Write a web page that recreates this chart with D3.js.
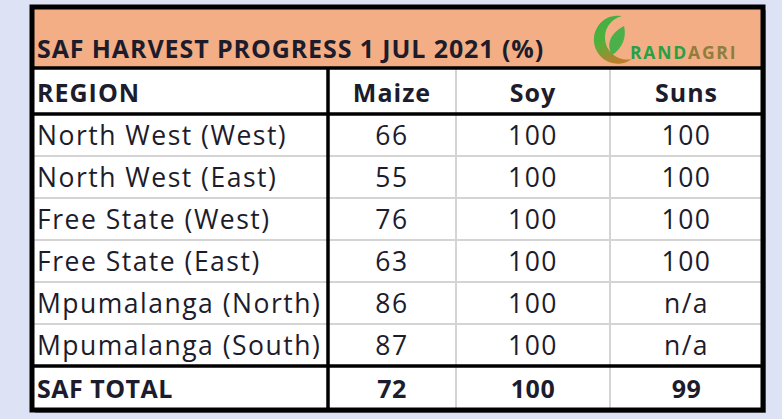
<!DOCTYPE html>
<html>
<head>
<meta charset="utf-8">
<script src="https://cdn.jsdelivr.net/npm/d3@7"></script>
<style>
  html, body { margin: 0; padding: 0; background: #dde3f4; }
  svg { display: block; }
</style>
</head>
<body>
<div id="chart"></div>
<script>
const title = "SAF HARVEST PROGRESS 1 JUL 2021 (%)";
const headers = ["REGION", "Maize", "Soy", "Suns"];
const regions = ["North West (West)", "North West (East)", "Free State (West)", "Free State (East)", "Mpumalanga (North)", "Mpumalanga (South)"];
const maize = [66, 55, 76, 63, 86, 87];
const soy = [100, 100, 100, 100, 100, 100];
const suns = ["100", "100", "100", "100", "n/a", "n/a"];
const totalLabel = "SAF TOTAL";
const totals = [72, 100, 99];

const width = 782, height = 419;
const font = "'Open Sans', sans-serif";
const ink = "#1c1c2c";

// table frame
const tLeft = 32, tRight = 763, tTop = 7, tBottom = 410;
const colEdges = [tLeft, 328, 456, 610, tRight];
const titleBottom = 68, headerBottom = 114, dataBottom = 366;

const svg = d3.select("#chart").append("svg")
  .attr("width", width)
  .attr("height", height)
  .attr("viewBox", [0, 0, width, height]);

const y = d3.scaleBand()
  .domain(regions)
  .range([headerBottom, dataBottom]);

const colMid = i => (colEdges[i] + colEdges[i + 1]) / 2;

// shadow
svg.append("rect")
  .attr("x", tLeft + 3).attr("y", tTop + 3)
  .attr("width", tRight - tLeft).attr("height", tBottom - tTop)
  .attr("fill", "#8a8d96");

svg.append("rect")
  .attr("x", tLeft).attr("y", tTop)
  .attr("width", tRight - tLeft).attr("height", tBottom - tTop)
  .attr("fill", "#fff");

// title band
svg.append("rect")
  .attr("x", tLeft).attr("y", tTop)
  .attr("width", tRight - tLeft).attr("height", titleBottom - tTop)
  .attr("fill", "#f3ae85");

svg.append("text")
  .attr("x", 37).attr("y", 58)
  .attr("font-family", font).attr("font-weight", "bold")
  .attr("font-size", 25).attr("letter-spacing", 0.9).attr("fill", ink)
  .text(title);

// logo
const defs = svg.append("defs");
const grad = defs.append("linearGradient").attr("id", "cres")
  .attr("x1", 0).attr("y1", 0).attr("x2", 0.4).attr("y2", 1);
grad.append("stop").attr("offset", "0%").attr("stop-color", "#3fae49");
grad.append("stop").attr("offset", "55%").attr("stop-color", "#52b03a");
grad.append("stop").attr("offset", "100%").attr("stop-color", "#b9802c");
const logo = svg.append("g").attr("transform", "translate(612,39)");
logo.append("path")
  .attr("d", "M10,-23 A24,24 0 1 0 20,20 A18,18 0 1 1 10,-23 Z")
  .attr("fill", "url(#cres)");
logo.append("path")
  .attr("d", "M0,16 C-7,4 0,-7 12,-13 C15,-2 10,10 0,16 Z")
  .attr("fill", "#4cb04a");
logo.append("text")
  .attr("x", 18).attr("y", 20)
  .attr("font-family", font).attr("font-weight", "bold")
  .attr("font-size", 17.5).attr("letter-spacing", 1.8).attr("fill", "#27a046")
  .text("RAND")
  .append("tspan").attr("fill", "#8f7d3c").text("AGRI");

// light grid lines
const grid = svg.append("g").attr("stroke", "#d4d4d4").attr("stroke-width", 2);
grid.selectAll("line.h")
  .data(regions.slice(1))
  .join("line")
    .attr("x1", tLeft).attr("x2", tRight)
    .attr("y1", d => y(d)).attr("y2", d => y(d));
grid.selectAll("line.v")
  .data(colEdges.slice(2, 4))
  .join("line")
    .attr("x1", d => d).attr("x2", d => d)
    .attr("y1", titleBottom).attr("y2", tBottom);

// thick lines
const thick = svg.append("g").attr("stroke", "#000").attr("stroke-width", 3.5);
[titleBottom, headerBottom, dataBottom].forEach(v => {
  thick.append("line").attr("x1", tLeft).attr("x2", tRight).attr("y1", v).attr("y2", v);
});
thick.append("line").attr("x1", colEdges[1]).attr("x2", colEdges[1]).attr("y1", titleBottom).attr("y2", tBottom);
svg.append("rect")
  .attr("x", tLeft).attr("y", tTop)
  .attr("width", tRight - tLeft).attr("height", tBottom - tTop)
  .attr("fill", "none").attr("stroke", "#000").attr("stroke-width", 5);

const xPos = (d, i) => i === 0 ? 37 : colMid(i);
const anchor = (d, i) => i === 0 ? "start" : "middle";

// header row
svg.append("g").selectAll("text")
  .data(headers)
  .join("text")
    .attr("x", xPos)
    .attr("y", 102)
    .attr("text-anchor", anchor)
    .attr("font-family", font).attr("font-weight", "bold")
    .attr("font-size", 25).attr("letter-spacing", 1.0).attr("fill", ink)
    .text(d => d);

// data rows
const rows = svg.append("g").selectAll("g")
  .data(regions.map((r, i) => [r, maize[i], soy[i], suns[i]]))
  .join("g")
    .attr("transform", d => `translate(0,${y(d[0]) + y.bandwidth() / 2 + 9.5})`);

rows.selectAll("text")
  .data(d => d)
  .join("text")
    .attr("x", xPos)
    .attr("text-anchor", anchor)
    .attr("font-family", font)
    .attr("font-size", 26.5).attr("letter-spacing", 1.5).attr("fill", ink)
    .text(d => d);

// total row
svg.append("g").selectAll("text")
  .data([totalLabel, ...totals])
  .join("text")
    .attr("x", xPos)
    .attr("y", 398)
    .attr("text-anchor", anchor)
    .attr("font-family", font).attr("font-weight", "bold")
    .attr("font-size", 25).attr("letter-spacing", 0.5).attr("fill", ink)
    .text(d => d);
</script>
</body>
</html>
